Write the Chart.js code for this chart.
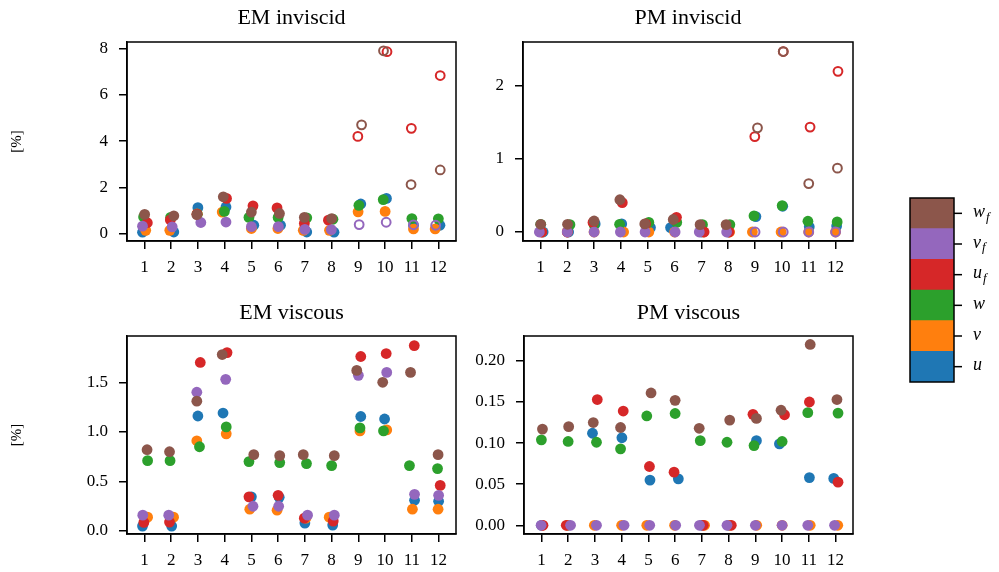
<!DOCTYPE html>
<html>
<head>
<meta charset="utf-8">
<script src="https://cdn.jsdelivr.net/npm/chart.js@4.4.1/dist/chart.umd.min.js"></script>
<style>
  html, body { margin: 0; padding: 0; background: #fff; }
  #wrap { position: relative; width: 999px; height: 572px; overflow: hidden; }
  canvas { position: absolute; }
</style>
</head>
<body>
<div id="wrap">
  <canvas id="emInv" width="470" height="290" style="left:0;top:0"></canvas>
  <canvas id="pmInv" width="400" height="290" style="left:470px;top:0"></canvas>
  <canvas id="emVis" width="470" height="282" style="left:0;top:290px"></canvas>
  <canvas id="pmVis" width="400" height="282" style="left:471px;top:290px"></canvas>
  <canvas id="legend" width="109" height="210" style="left:890px;top:185px"></canvas>
</div>
<script>
// ---- data ----
const categories = [1, 2, 3, 4, 5, 6, 7, 8, 9, 10, 11, 12];
const seriesNames = ['u', 'v', 'w', 'u_f', 'v_f', 'w_f'];
const seriesColors = ['#1f77b4', '#ff7f0e', '#2ca02c', '#d62728', '#9467bd', '#8c564b'];
// categories where the inviscid "_f" errors are drawn as open circles
const openCategories = [9, 10, 11, 12];

// EM inviscid
const emInvU  = [0.06, 0.07, 1.12, 1.15, 0.36, 0.36, 0.07, 0.06, 1.28, 1.52, 0.36, 0.36];
const emInvV  = [0.14, 0.14, 0.85, 0.93, 0.22, 0.22, 0.14, 0.14, 0.94, 0.96, 0.20, 0.20];
const emInvW  = [0.72, 0.70, 0.84, 0.96, 0.70, 0.70, 0.68, 0.62, 1.22, 1.47, 0.65, 0.64];
const emInvUf = [0.47, 0.59, 0.84, 1.52, 1.20, 1.11, 0.44, 0.58, 4.20, 7.86, 4.55, 6.83];
const emInvVf = [0.32, 0.29, 0.48, 0.50, 0.30, 0.30, 0.18, 0.17, 0.39, 0.49, 0.38, 0.36];
const emInvWf = [0.83, 0.77, 0.82, 1.59, 0.93, 0.87, 0.70, 0.65, 4.70, 7.90, 2.12, 2.75];
// PM inviscid
const pmInvU  = [0, 0, 0.11, 0.11, 0.06, 0.06, 0, 0, 0.21, 0.35, 0.07, 0.08];
const pmInvV  = [0, 0, 0, 0, 0, 0, 0, 0, 0, 0, 0, 0];
const pmInvW  = [0.105, 0.10, 0.10, 0.105, 0.13, 0.13, 0.10, 0.10, 0.22, 0.36, 0.146, 0.137];
const pmInvUf = [0, 0, 0.13, 0.40, 0.11, 0.20, 0, 0, 1.30, 2.46, 1.43, 2.19];
const pmInvVf = [0, 0, 0, 0, 0, 0, 0, 0, 0, 0, 0, 0];
const pmInvWf = [0.105, 0.105, 0.15, 0.44, 0.11, 0.17, 0.10, 0.10, 1.42, 2.46, 0.66, 0.87];
// EM viscous
const emVisU  = [0.05, 0.05, 1.16, 1.19, 0.345, 0.34, 0.08, 0.06, 1.155, 1.13, 0.31, 0.30];
const emVisV  = [0.14, 0.14, 0.91, 0.98, 0.22, 0.21, 0.13, 0.14, 1.01, 1.02, 0.22, 0.22];
const emVisW  = [0.71, 0.71, 0.85, 1.05, 0.70, 0.69, 0.68, 0.66, 1.04, 1.01, 0.66, 0.63];
const emVisUf = [0.087, 0.09, 1.70, 1.80, 0.345, 0.36, 0.13, 0.10, 1.76, 1.79, 1.87, 0.46];
const emVisVf = [0.16, 0.16, 1.40, 1.53, 0.25, 0.25, 0.16, 0.16, 1.57, 1.60, 0.37, 0.36];
const emVisWf = [0.82, 0.80, 1.31, 1.78, 0.77, 0.76, 0.77, 0.76, 1.62, 1.50, 1.60, 0.77];
// PM viscous
const pmVisU  = [0, 0, 0.112, 0.1065, 0.055, 0.0565, 0, 0, 0.103, 0.099, 0.058, 0.057];
const pmVisV  = [0, 0, 0, 0, 0, 0, 0, 0, 0, 0, 0, 0];
const pmVisW  = [0.104, 0.102, 0.101, 0.093, 0.133, 0.136, 0.103, 0.101, 0.097, 0.102, 0.137, 0.1365];
const pmVisUf = [0, 0, 0.153, 0.139, 0.0715, 0.0646, 0, 0, 0.135, 0.1345, 0.15, 0.0525];
const pmVisVf = [0, 0, 0, 0, 0, 0, 0, 0, 0, 0, 0, 0];
const pmVisWf = [0.117, 0.12, 0.125, 0.119, 0.161, 0.152, 0.118, 0.128, 0.13, 0.14, 0.22, 0.153];

// horizontal jitter of each point around its category
const emInvJit = [
  [-0.07, 0.10, 0, 0.05, 0.09, 0.09, 0.07, 0.09, 0.09, 0.05, 0.06, 0.05],
  [0.05, -0.05, -0.03, -0.09, 0, -0.01, -0.06, -0.08, -0.01, 0, 0.06, -0.13],
  [-0.03, -0.02, -0.02, -0.01, -0.09, 0, 0.07, 0.05, 0.02, -0.07, 0, -0.01],
  [0.11, -0.03, -0.03, 0.07, 0.06, -0.04, -0.02, -0.12, -0.02, 0.07, -0.02, 0.06],
  [-0.07, 0.04, 0.11, 0.05, 0, 0.01, 0, -0.01, 0.03, 0.04, 0.06, -0.11],
  [0.01, 0.10, -0.04, -0.05, 0, 0.05, -0.02, 0, 0.12, -0.06, -0.03, 0.06]
];
const pmInvJit = [
  [0.10, 0.05, 0.04, 0.03, 0.10, -0.15, 0, 0, 0.03, 0.03, 0.02, 0.04],
  [0.05, 0, 0, 0.10, 0.04, 0, 0.08, 0.05, -0.10, -0.03, 0, 0],
  [0.01, 0.10, 0, -0.05, 0.04, 0.08, 0.04, 0.06, -0.04, 0.01, -0.03, 0.06],
  [0.05, 0, -0.04, 0.05, -0.08, 0.07, 0.10, 0.03, -0.01, 0.05, 0.05, 0.09],
  [-0.04, 0, 0, -0.02, -0.10, 0.02, -0.08, -0.06, 0, 0.05, 0, 0],
  [0.01, 0.01, 0, -0.04, -0.11, -0.05, -0.05, -0.08, 0.09, 0.05, 0, 0.07]
];
const emVisJit = [
  [-0.07, 0.02, 0, -0.06, 0, 0.04, 0, 0.04, 0.09, -0.02, 0.10, 0],
  [0.12, 0.09, -0.04, 0.06, -0.06, -0.04, 0.04, -0.09, 0.06, 0.06, 0.02, -0.02],
  [0.12, -0.04, 0.06, 0.06, -0.09, 0.06, 0.06, 0, 0.06, -0.06, -0.09, -0.04],
  [-0.02, -0.06, 0.09, 0.09, -0.09, 0, -0.02, 0.06, 0.09, 0.04, 0.09, 0.06],
  [-0.06, -0.09, -0.04, 0.04, 0.06, 0.02, 0.10, 0.10, 0, 0.06, 0.10, 0],
  [0.10, -0.06, -0.04, -0.09, 0.09, 0.06, -0.06, 0.10, -0.06, -0.09, -0.05, -0.02]
];
const pmVisJit = [
  [0, 0, -0.09, 0.01, 0.06, 0.12, 0, 0, 0.04, -0.10, 0.02, -0.07],
  [0.03, -0.03, -0.02, 0, -0.06, -0.02, 0.10, 0.05, 0.05, 0, 0.05, 0.08],
  [0, 0, 0.06, -0.04, -0.06, 0, -0.06, -0.06, -0.05, 0, -0.04, 0.09],
  [0.06, -0.07, 0.09, 0.06, 0.04, -0.04, 0.05, 0.10, -0.09, 0.09, 0.02, 0.09],
  [-0.01, 0.09, 0.06, 0.09, 0.05, 0.02, -0.09, -0.06, 0, 0, -0.04, -0.04],
  [0.04, 0.02, -0.06, -0.04, 0.10, 0, -0.10, 0.04, 0.04, -0.04, 0.05, 0.05]
];

const emInvTicks = [0, 2, 4, 6, 8];
const emInvLabels = ['0', '2', '4', '6', '8'];
const pmInvTicks = [0, 1, 2];
const pmInvLabels = ['0', '1', '2'];
const emVisTicks = [0, 0.5, 1.0, 1.5];
const emVisLabels = ['0.0', '0.5', '1.0', '1.5'];
const pmVisTicks = [0, 0.05, 0.10, 0.15, 0.20];
const pmVisLabels = ['0.00', '0.05', '0.10', '0.15', '0.20'];

// ---- drawing ----
const FONT = "'Liberation Serif', 'DejaVu Serif', serif";

// axes box and a title centred over the plot area
const frame = {
  id: 'frame',
  afterDraw(chart, args, opts) {
    const a = chart.chartArea, c = chart.ctx;
    c.save();
    c.strokeStyle = '#000';
    c.lineWidth = 1.5;
    c.strokeRect(a.left, a.top, a.right - a.left, a.bottom - a.top);
    c.fillStyle = '#000';
    c.font = '22px ' + FONT;
    c.textAlign = 'center';
    c.textBaseline = 'middle';
    c.fillText(opts.text, (a.left + a.right) / 2, opts.y);
    c.restore();
  }
};

function panel(id, cfg) {
  const datasets = seriesNames.map((name, s) => {
    const isOpen = i => cfg.openMarks && name.endsWith('_f') && openCategories.includes(categories[i]);
    return {
      label: name,
      data: categories.map((c, i) => ({ x: c + cfg.jitter[s][i], y: cfg.values[s][i] })),
      pointRadius: ctx => isOpen(ctx.dataIndex) ? 4.4 : 5.4,
      pointBorderWidth: ctx => isOpen(ctx.dataIndex) ? 2 : 0,
      pointBackgroundColor: ctx => isOpen(ctx.dataIndex) ? 'rgba(0,0,0,0)' : seriesColors[s],
      pointBorderColor: seriesColors[s],
      order: seriesNames.length - s
    };
  });

  const axisBits = {
    grid: { display: true, drawOnChartArea: false, drawTicks: true, tickLength: 8, color: '#000', lineWidth: 1.5 },
    border: { display: true, color: '#000', width: 1.5 }
  };

  new Chart(document.getElementById(id), {
    type: 'scatter',
    data: { datasets },
    plugins: [frame],
    options: {
      responsive: false,
      animation: false,
      events: [],
      layout: { padding: { top: cfg.padTop, right: cfg.padRight } },
      plugins: {
        legend: { display: false },
        tooltip: { enabled: false },
        title: { display: false },
        frame: { text: cfg.title, y: cfg.titleY }
      },
      scales: {
        x: {
          type: 'linear', min: 0.35, max: 12.65,
          afterBuildTicks: sc => { sc.ticks = categories.map(v => ({ value: v })); },
          afterFit: sc => { sc.height = cfg.xHeight; },
          ticks: { color: '#000', font: { family: FONT, size: 17 }, padding: 8, maxRotation: 0, autoSkip: false,
                   callback: v => String(v) },
          ...axisBits
        },
        y: {
          type: 'linear', min: cfg.yMin, max: cfg.yMax,
          afterBuildTicks: sc => { sc.ticks = cfg.ticks.map(v => ({ value: v })); },
          afterFit: sc => { sc.width = cfg.yWidth; },
          ticks: { color: '#000', font: { family: FONT, size: 17 }, padding: 11, autoSkip: false,
                   callback: (v, i) => cfg.labels[i] },
          title: {
            display: !!cfg.yTitle, text: cfg.yTitle || '', color: '#000',
            font: { family: FONT, size: 15 }, padding: { top: 8, bottom: 0 }
          },
          ...axisBits
        }
      }
    }
  });
}

panel('emInv', {
  title: 'EM inviscid', values: [emInvU, emInvV, emInvW, emInvUf, emInvVf, emInvWf], jitter: emInvJit,
  ticks: emInvTicks, labels: emInvLabels, yMin: -0.32, yMax: 8.28, openMarks: true, yTitle: '[%]',
  yWidth: 127, padRight: 14, padTop: 42, xHeight: 49, titleY: 18
});
panel('pmInv', {
  title: 'PM inviscid', values: [pmInvU, pmInvV, pmInvW, pmInvUf, pmInvVf, pmInvWf], jitter: pmInvJit,
  ticks: pmInvTicks, labels: pmInvLabels, yMin: -0.123, yMax: 2.59, openMarks: true,
  yWidth: 53, padRight: 17, padTop: 42, xHeight: 49, titleY: 18
});
panel('emVis', {
  title: 'EM viscous', values: [emVisU, emVisV, emVisW, emVisUf, emVisVf, emVisWf], jitter: emVisJit,
  ticks: emVisTicks, labels: emVisLabels, yMin: -0.03, yMax: 1.967, openMarks: false, yTitle: '[%]',
  yWidth: 127, padRight: 14, padTop: 46, xHeight: 38, titleY: 23
});
panel('pmVis', {
  title: 'PM viscous', values: [pmVisU, pmVisV, pmVisW, pmVisUf, pmVisVf, pmVisWf], jitter: pmVisJit,
  ticks: pmVisTicks, labels: pmVisLabels, yMin: -0.0106, yMax: 0.2303, openMarks: false,
  yWidth: 53, padRight: 18, padTop: 46, xHeight: 38, titleY: 23
});

// colour key on the right
const keyLabels = {
  id: 'keyLabels',
  afterDraw(chart) {
    const a = chart.chartArea, c = chart.ctx, ys = chart.scales.y;
    c.save();
    c.strokeStyle = '#000';
    c.lineWidth = 1.5;
    c.strokeRect(a.left, a.top, a.right - a.left, a.bottom - a.top);
    c.fillStyle = '#000';
    c.textBaseline = 'middle';
    seriesNames.forEach((name, i) => {
      const y = ys.getPixelForValue(i + 0.5);
      c.beginPath();
      c.moveTo(a.right, y);
      c.lineTo(a.right + 8, y);
      c.stroke();
      const [base, sub] = name.split('_');
      c.font = 'italic 18px ' + FONT;
      c.fillText(base, a.right + 19, y - 1);
      if (sub) {
        const w = c.measureText(base).width;
        c.font = 'italic 13px ' + FONT;
        c.fillText(sub, a.right + 20 + w, y + 4);
      }
    });
    c.restore();
  }
};

new Chart(document.getElementById('legend'), {
  type: 'bar',
  data: {
    labels: [''],
    datasets: seriesNames.map((name, s) => ({
      label: name, data: [1], backgroundColor: seriesColors[s], borderWidth: 0,
      barPercentage: 1, categoryPercentage: 1
    }))
  },
  plugins: [keyLabels],
  options: {
    responsive: false,
    animation: false,
    events: [],
    layout: { padding: { left: 20, right: 45, top: 13, bottom: 13 } },
    plugins: { legend: { display: false }, tooltip: { enabled: false }, title: { display: false } },
    scales: {
      x: { stacked: true, display: false },
      y: { stacked: true, display: false, min: 0, max: 6 }
    }
  }
});
</script>
</body>
</html>
